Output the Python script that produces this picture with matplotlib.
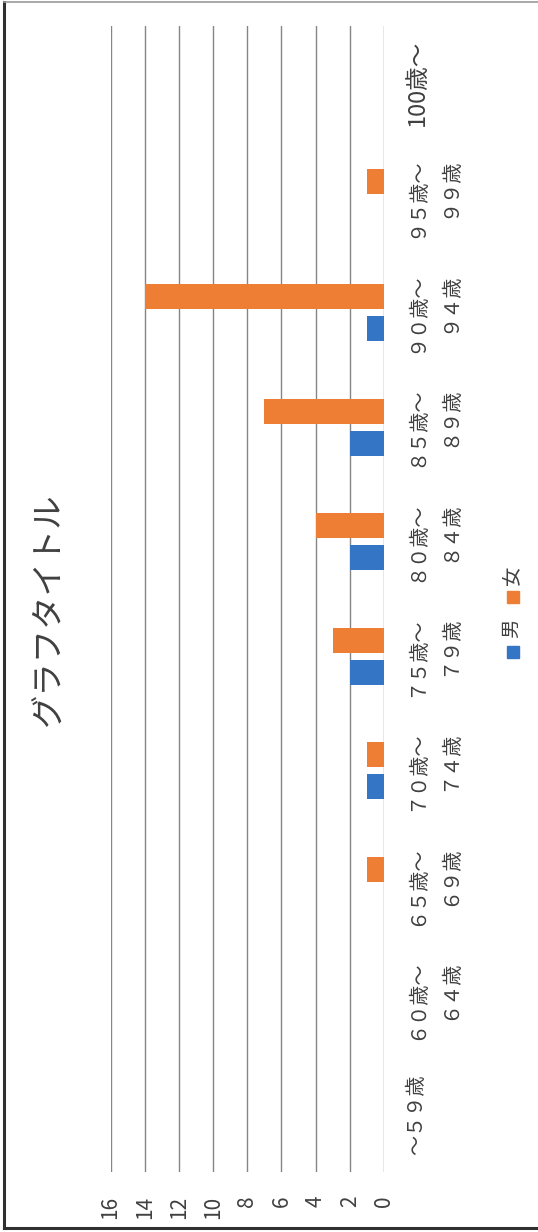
import numpy as np
import matplotlib
matplotlib.use('Agg')
import matplotlib.pyplot as plt
from matplotlib.patches import Rectangle
from matplotlib.lines import Line2D

plt.rcParams['font.family'] = ['Noto Sans CJK JP', 'DejaVu Sans']

# 年齢階級と人数
age_groups = ['～５９歳', '６０歳～\n６４歳', '６５歳～\n６９歳', '７０歳～\n７４歳',
              '７５歳～\n７９歳', '８０歳～\n８４歳', '８５歳～\n８９歳', '９０歳～\n９４歳',
              '９５歳～\n９９歳', '100歳～']
male = [0, 0, 0, 1, 2, 2, 2, 1, 0, 0]
female = [0, 0, 1, 1, 3, 4, 7, 14, 1, 0]
value_ticks = [0, 2, 4, 6, 8, 10, 12, 14, 16]

BLUE = '#3475C5'
ORANGE = '#EE7E34'
GRID = '#858585'
TEXT = '#404040'

W, H = 538, 1232
fig = plt.figure(figsize=(W / 100, H / 100), dpi=100)


def fx(px):
    return px / W


def fy(py):
    return 1 - py / H


# 縦書き(90度回転)の棒グラフ: 値軸は右→左
ax = fig.add_axes([fx(110.5), fy(1172), fx(384) - fx(110.5), fy(26) - fy(1172)])
y = np.arange(len(age_groups))
bh = 0.218
off = 0.14
ax.barh(y - off, male, height=bh, color=BLUE, zorder=3)
ax.barh(y + off, female, height=bh, color=ORANGE, zorder=3)

ax.set_xlim(16, 0)
ax.set_ylim(-0.5, len(age_groups) - 0.5)
ax.set_xticks(value_ticks)
ax.set_xticklabels([str(v) for v in value_ticks], rotation=90, fontsize=15, color=TEXT)
ax.grid(axis='x', color=GRID, linewidth=1.0, zorder=0)
ax.tick_params(axis='x', length=0, pad=17)

ax.yaxis.tick_right()
ax.set_yticks(y)
ax.set_yticklabels(age_groups, rotation=90, fontsize=14.5, color=TEXT,
                   ha='left', va='center', multialignment='right', linespacing=1.75)
ax.get_yticklabels()[-1].set_fontsize(17)
ax.tick_params(axis='y', length=0, pad=16)
for s in ax.spines.values():
    s.set_visible(False)

# タイトル
fig.text(fx(48), fy(610), 'グラフタイトル', rotation=90, fontsize=24,
         color=TEXT, ha='center', va='center')

# 凡例
sq = 12
for label, color, sq_y, txt_y in [('男', BLUE, 652, 628), ('女', ORANGE, 597, 575)]:
    fig.add_artist(Rectangle((fx(507), fy(sq_y + sq / 2)), sq / W, sq / H,
                             transform=fig.transFigure, color=color))
    fig.text(fx(512), fy(txt_y), label, rotation=90, fontsize=14,
             color=TEXT, ha='center', va='center')

# 外枠
fig.add_artist(Line2D([fx(4), fx(4)], [fy(2), fy(1228)], color='#303030', lw=2.2,
                      transform=fig.transFigure))
fig.add_artist(Line2D([fx(4), fx(538)], [fy(1228), fy(1228)], color='#303030', lw=2.2,
                      transform=fig.transFigure))
fig.add_artist(Line2D([fx(4), fx(538)], [fy(1.5), fy(1.5)], color='#9a9a9a', lw=1.2,
                      transform=fig.transFigure))

fig.savefig('out.png', dpi=100)
